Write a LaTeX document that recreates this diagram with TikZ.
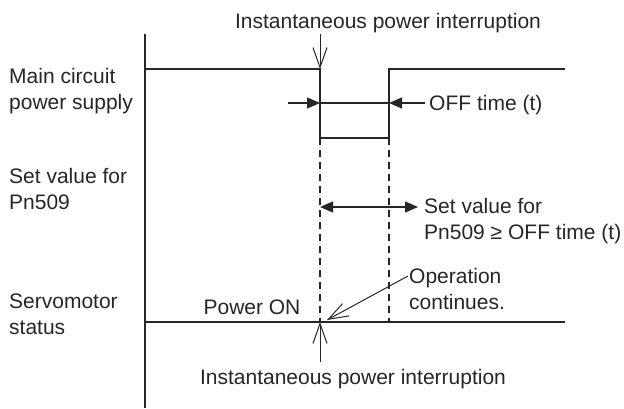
\documentclass[tikz,border=0pt]{standalone}
\usepackage{fontspec}
\setmainfont{Liberation Sans}
\usetikzlibrary{arrows.meta, positioning, calc}
\definecolor{ink}{gray}{0.15}
\tikzset{
  signal/.style={draw=ink, line width=2pt},
  guide/.style={draw=ink, line width=1.3pt, dash pattern=on 7pt off 5pt},
  pointer/.style={draw=ink, line width=1pt, -{Straight Barb[length=20pt,width=14pt]}},
  span/.style={draw=ink, line width=1.4pt, -{Triangle[length=13pt,width=11pt]}},
  txt/.style={font=\fontsize{21}{26}\selectfont, text=ink, inner sep=0pt, align=left},
}

\begin{document}
\begin{tikzpicture}[x=1pt, y=-1pt]
    \useasboundingbox (0,0) rectangle (624,408);
    %% row labels (base = last line)
    \node[txt, anchor=base west] (mainlbl)  at (9,109.5) {Main circuit\\power supply};
    \node[txt, anchor=base west] (setlbl)   at (9,209.5) {Set value for\\Pn509};
    \node[txt, anchor=base west] (servolbl) at (9,334.5) {Servomotor\\status};
    %% time axis
    \coordinate (axtop) at (145,34);
    \coordinate (axbot) at (145,408);
    \draw[signal] (axtop)--(axbot);
    %% main circuit power supply: drops and comes back
    \coordinate (mc1) at (145,69);
    \coordinate (mc2) at (320,69);
    \coordinate (mc3) at (320,138);
    \coordinate (mc4) at (389,138);
    \coordinate (mc5) at (389,69);
    \coordinate (mc6) at (565,69);
    \draw[signal] (mc1)--(mc2)--(mc3)--(mc4)--(mc5)--(mc6);
    %% servomotor status stays on
    \coordinate (sv1) at (145,322);
    \coordinate (sv2) at (320,322);
    \coordinate (sv3) at (389,322);
    \coordinate (sv4) at (565,322);
    \draw[signal] (sv1)--(sv4);
    \draw[guide] (mc3)--(sv2);
    \draw[guide] (mc4)--(sv3);
    %% interruption markers
    \node[txt, anchor=base] (topnote) at (388,28) {Instantaneous power interruption};
    \coordinate (toparr) at (320,34);
    \draw[pointer] (toparr)--(mc2);
    \node[txt, anchor=base] (botnote) at (353,384.5) {Instantaneous power interruption};
    \coordinate (botarr) at (320,362);
    \draw[pointer] (botarr)--(sv2);
    %% OFF time
    \node[txt, anchor=base west] (offlbl) at (429,110.5) {OFF time (t)};
    \coordinate (offL) at (288,103);
    \coordinate (offA) at (320,103);
    \coordinate (offB) at (389,103);
    \coordinate (offR) at (425,103);
    \draw[span] (offL)--(offA);
    \draw[draw=ink, line width=1.4pt] (offA)--(offB);
    \draw[span] (offR)--(offB);
    %% Pn509 set value
    \coordinate (pnA) at (320,207);
    \coordinate (pnB) at (418,207);
    \draw[span, {Triangle[length=13pt,width=11pt]}-{Triangle[length=13pt,width=11pt]}] (pnA)--(pnB);
    \node[txt, anchor=base west] (pnlbl) at (424,239.5) {Set value for\\Pn509 ≥ OFF time (t)};
    %% operation continues
    \node[txt, anchor=base] (onlbl) at (252,314) {Power ON};
    \node[txt, anchor=base west] (oplbl) at (409,309.5) {Operation\\continues.};
    \coordinate (opfrom) at (408,276);
    \coordinate (opto) at (327,320);
    \draw[pointer] (opfrom)--(opto);
\end{tikzpicture}
\end{document}
